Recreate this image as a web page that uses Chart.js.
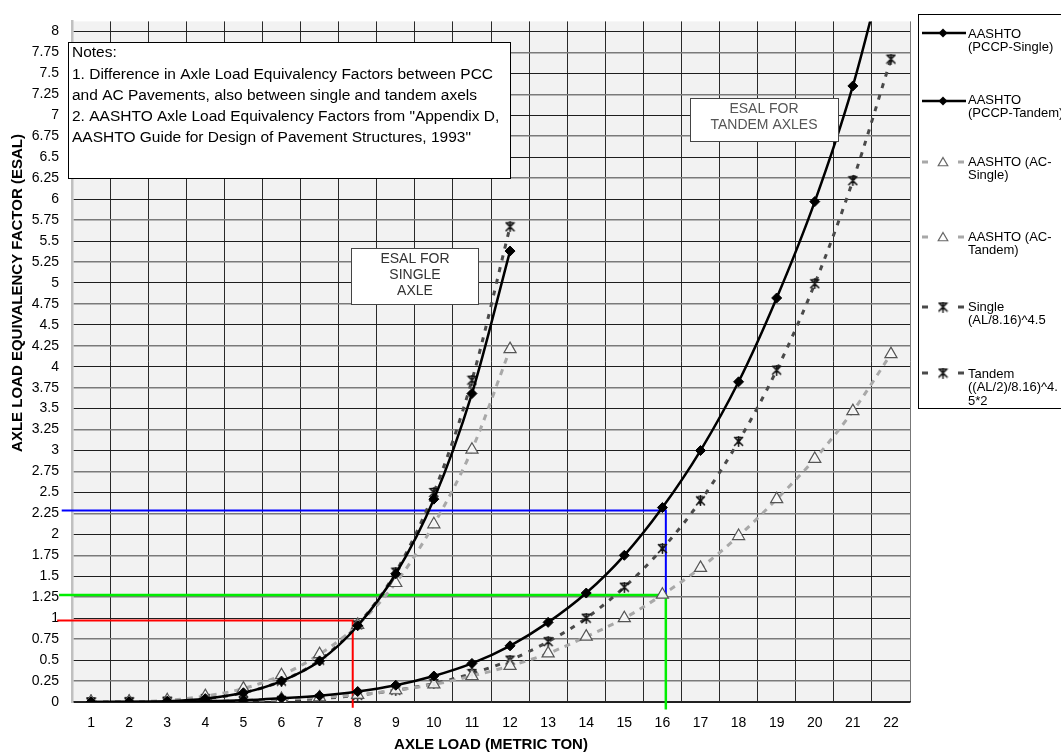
<!DOCTYPE html>
<html><head><meta charset="utf-8">
<script src="https://cdn.jsdelivr.net/npm/chart.js@4.4.0/dist/chart.umd.min.js"></script>
<style>html,body{margin:0;padding:0;background:#fff;}#wrap{width:1061px;height:754px;}</style>
</head><body><div id="wrap"><canvas id="c" width="1061" height="754"></canvas></div>
<script>
// ---------- data ----------
const loadsSingle = [1,2,3,4,5,6,7,8,9,10,11,12];
const loadsTandem = [1,2,3,4,5,6,7,8,9,10,11,12,13,14,15,16,17,18,19,20,21,22];
const pccpSingle = [0.0,0.002,0.01,0.04,0.11,0.25,0.49,0.91,1.53,2.42,3.68,5.38];
const pccpTandem = [0.0,0.0,0.002,0.008,0.02,0.045,0.075,0.125,0.2,0.31,0.46,0.67,0.95,1.3,1.75,2.32,3.0,3.82,4.82,5.97,7.35,9.1];
const acSingle = [0.0,0.003,0.02,0.07,0.16,0.32,0.57,0.92,1.42,2.12,3.01,4.21];
const acTandem = [0.0,0.0,0.003,0.008,0.02,0.035,0.055,0.085,0.14,0.21,0.31,0.43,0.58,0.78,1.0,1.28,1.6,1.98,2.42,2.9,3.47,4.15];
const powerSingle = [0.0,0.002,0.01,0.04,0.11,0.25,0.5,0.92,1.55,2.5,3.84,5.67];
const powerTandem = [0.0,0.0,0.001,0.004,0.01,0.02,0.04,0.08,0.14,0.22,0.34,0.5,0.72,1.0,1.37,1.83,2.4,3.11,3.96,4.99,6.22,7.67];
const seriesLabels = ['AASHTO (PCCP-Single)','AASHTO (PCCP-Tandem)','AASHTO (AC-Single)','AASHTO (AC-Tandem)','Single (AL/8.16)^4.5','Tandem ((AL/2)/8.16)^4.5*2'];
const legendLines = [['AASHTO','(PCCP-Single)'],['AASHTO','(PCCP-Tandem)'],['AASHTO (AC-','Single)'],['AASHTO (AC-','Tandem)'],['Single','(AL/8.16)^4.5'],['Tandem','((AL/2)/8.16)^4.','5*2']];
const xTickLabels = [1,2,3,4,5,6,7,8,9,10,11,12,13,14,15,16,17,18,19,20,21,22];
const yTickValues = [0,0.25,0.5,0.75,1,1.25,1.5,1.75,2,2.25,2.5,2.75,3,3.25,3.5,3.75,4,4.25,4.5,4.75,5,5.25,5.5,5.75,6,6.25,6.5,6.75,7,7.25,7.5,7.75,8];
// guide lines
const redGuideX = [0.11,7.87,7.87], redGuideY = [0.973,0.973,-0.07];
const blueGuideX = [0.23,16.09,16.09], blueGuideY = [2.286,2.286,1.278];
const greenGuideX = [0.16,16.09,16.09], greenGuideY = [1.278,1.278,-0.09];
const notesText = ['Notes:','1. Difference in Axle Load Equivalency Factors between PCC','and AC Pavements, also between single and tandem axels','2. AASHTO Axle Load Equivalency Factors from "Appendix D,','AASHTO Guide for Design of Pavement Structures, 1993"'];
const singleBoxText = ['ESAL FOR','SINGLE','AXLE'];
const tandemBoxText = ['ESAL FOR','TANDEM AXLES'];
const yTitle = 'AXLE LOAD EQUIVALENCY FACTOR (ESAL)';
const xTitle = 'AXLE LOAD (METRIC TON)';

// ---------- helpers ----------
const FONT = '"Liberation Sans", Arial, sans-serif';
const toPts = (xs, ys) => xs.map((x, i) => ({x: x, y: ys[i]}));
function makeStar(color) {
  const c = document.createElement('canvas');
  c.width = 11; c.height = 11;
  const g = c.getContext('2d');
  g.strokeStyle = color; g.lineWidth = 1.6; g.lineCap = 'round';
  g.beginPath();
  g.moveTo(1.5, 1.5); g.lineTo(9.5, 9.5);
  g.moveTo(9.5, 1.5); g.lineTo(1.5, 9.5);
  g.moveTo(5.5, 0.8); g.lineTo(5.5, 10.2);
  g.moveTo(3, 1.5); g.lineTo(8, 1.5);
  g.stroke();
  return c;
}
const starImg = makeStar('#111');

const black = '#000', acGray = '#a8a8a8', starGray = '#4a4a4a';
const pccpStyle = {borderColor: black, backgroundColor: black, borderWidth: 2.5, pointStyle: 'rectRot', pointRadius: 5, pointBackgroundColor: black, pointBorderColor: black, pointBorderWidth: 1, cubicInterpolationMode: 'monotone', fill: false};
const acStyle = {borderColor: acGray, borderWidth: 3, borderDash: [6, 6], pointStyle: 'triangle', pointRadius: 7, pointBackgroundColor: 'rgba(248,248,248,0.9)', pointBorderColor: '#555', pointBorderWidth: 1.2, cubicInterpolationMode: 'monotone', fill: false};
const starStyle = {borderColor: starGray, borderWidth: 3, borderDash: [5, 7], pointStyle: starImg, pointRadius: 6, cubicInterpolationMode: 'monotone', fill: false};
const guideStyle = (col, w) => ({borderColor: col, backgroundColor: col, borderWidth: w, pointRadius: 0, tension: 0, clip: false, fill: false});

const datasets = [
  Object.assign({label: seriesLabels[0], data: toPts(loadsSingle, pccpSingle)}, pccpStyle),
  Object.assign({label: seriesLabels[1], data: toPts(loadsTandem, pccpTandem)}, pccpStyle),
  Object.assign({label: seriesLabels[2], data: toPts(loadsSingle, acSingle)}, acStyle),
  Object.assign({label: seriesLabels[3], data: toPts(loadsTandem, acTandem)}, acStyle),
  Object.assign({label: seriesLabels[4], data: toPts(loadsSingle, powerSingle)}, starStyle),
  Object.assign({label: seriesLabels[5], data: toPts(loadsTandem, powerTandem)}, starStyle),
  Object.assign({label: 'guide-blue', data: toPts(blueGuideX, blueGuideY)}, guideStyle('#0000ff', 2)),
  Object.assign({label: 'guide-green', data: toPts(greenGuideX, greenGuideY)}, guideStyle('#00ee00', 2.5)),
  Object.assign({label: 'guide-red', data: toPts(redGuideX, redGuideY)}, guideStyle('#ff0000', 2))
];

function drawDiamond(g, x, y, r) {
  g.beginPath(); g.moveTo(x, y - r); g.lineTo(x + r, y); g.lineTo(x, y + r); g.lineTo(x - r, y); g.closePath();
  g.fillStyle = '#000'; g.fill();
}
function drawTriangle(g, x, y, r) {
  const h = 1.5 * r, s = r * Math.sqrt(3);
  g.beginPath(); g.moveTo(x, y - r); g.lineTo(x + s / 2, y + h - r); g.lineTo(x - s / 2, y + h - r); g.closePath();
  g.fillStyle = '#fff'; g.fill(); g.strokeStyle = '#666'; g.lineWidth = 1.2; g.stroke();
}

const decor = {
  id: 'decor',
  beforeDraw(chart) {
    const g = chart.ctx, a = chart.chartArea;
    g.save();
    g.fillStyle = '#fff'; g.fillRect(0, 0, chart.width, chart.height);
    g.fillStyle = '#f2f2f2'; g.fillRect(a.left, a.top, a.right - a.left, a.bottom - a.top);
    g.restore();
  },
  afterDraw(chart) {
    const g = chart.ctx;
    g.save();
    // Notes box
    g.fillStyle = '#fff'; g.fillRect(68, 42, 442, 136);
    g.strokeStyle = '#000'; g.lineWidth = 1; g.strokeRect(68.5, 42.5, 442, 136);
    g.fillStyle = '#000'; g.font = '15.5px ' + FONT; g.textBaseline = 'middle'; g.textAlign = 'left';
    notesText.forEach((t, i) => g.fillText(t, 72, 53 + i * 21.3));
    // ESAL single box
    g.fillStyle = '#fff'; g.fillRect(351, 248, 127, 56);
    g.strokeStyle = '#444'; g.strokeRect(351.5, 248.5, 127, 56);
    g.fillStyle = '#333'; g.font = '14px ' + FONT; g.textAlign = 'center';
    singleBoxText.forEach((t, i) => g.fillText(t, 415, 259 + i * 16));
    // ESAL tandem box
    g.fillStyle = '#fff'; g.fillRect(690, 98, 148, 43);
    g.strokeStyle = '#444'; g.strokeRect(690.5, 98.5, 148, 43);
    g.fillStyle = '#555'; g.font = '14px ' + FONT;
    tandemBoxText.forEach((t, i) => g.fillText(t, 764, 109 + i * 16));
    // Y axis title
    g.save();
    g.translate(18, 293); g.rotate(-Math.PI / 2);
    g.fillStyle = '#000'; g.font = 'bold 15px ' + FONT; g.textAlign = 'center'; g.textBaseline = 'middle';
    g.fillText(yTitle, 0, 0);
    g.restore();
    // Legend
    g.fillStyle = '#fff'; g.fillRect(918, 14, 160, 394);
    g.strokeStyle = '#000'; g.lineWidth = 1; g.strokeRect(918.5, 14.5, 160, 394);
    const rows = [{m: 33, t: 34}, {m: 101, t: 100}, {m: 162, t: 162}, {m: 237, t: 237}, {m: 307, t: 307}, {m: 373, t: 374}];
    rows.forEach((r, i) => {
      const y = r.m;
      if (i < 2) {
        g.strokeStyle = '#000'; g.lineWidth = 2.5; g.setLineDash([]);
        g.beginPath(); g.moveTo(922, y); g.lineTo(966, y); g.stroke();
        drawDiamond(g, 943, y, 4.5);
      } else {
        g.strokeStyle = i < 4 ? acGray : starGray; g.lineWidth = 3; g.setLineDash([]);
        g.beginPath(); g.moveTo(922, y); g.lineTo(928, y); g.moveTo(958, y); g.lineTo(964, y); g.stroke();
        if (i < 4) drawTriangle(g, 943, y + 1, 5.5);
        else g.drawImage(starImg, 943 - 5.5, y - 5.5);
      }
      g.fillStyle = '#000'; g.font = '13px ' + FONT; g.textAlign = 'left'; g.textBaseline = 'middle';
      legendLines[i].forEach((t, j) => g.fillText(t, 968, r.t + j * 13.5));
    });
    g.restore();
  }
};

const xGridValues = [];
for (let k = 1; k <= 45; k++) xGridValues.push(k * 0.5);

new Chart(document.getElementById('c'), {
  type: 'line',
  data: {datasets: datasets},
  options: {
    responsive: false,
    animation: false,
    events: [],
    layout: {padding: {top: 10, right: 151, left: 0, bottom: 0}},
    plugins: {legend: {display: false}, tooltip: {enabled: false}, title: {display: false}},
    scales: {
      x: {
        type: 'linear', min: 0.5, max: 22.5,
        afterBuildTicks: (s) => { s.ticks = xGridValues.map(v => ({value: v})); },
        afterFit: (s) => { s.height = 52; },
        ticks: {autoSkip: false, maxRotation: 0, minRotation: 0, padding: 13, color: '#000', font: {family: FONT, size: 14},
          callback: (v) => (xTickLabels.indexOf(v) >= 0 ? String(v) : '')},
        grid: {drawTicks: false, lineWidth: 1,
          color: (c) => { const v = c.tick && c.tick.value; return (v !== undefined && Math.abs(v % 1 - 0.5) < 1e-6 && v > 0.6) ? (v > 22 ? '#777' : '#2a2a2a') : 'rgba(0,0,0,0)'; }},
        border: {color: '#222', width: 1.5},
        title: {display: true, text: xTitle, color: '#000', font: {family: FONT, size: 15, weight: 'bold'}, padding: {top: 0, bottom: 0}}
      },
      y: {
        type: 'linear', min: 0, max: 8.12,
        afterBuildTicks: (s) => { s.ticks = yTickValues.map(v => ({value: v})); },
        afterFit: (s) => { s.width = 72; },
        ticks: {padding: 13, color: '#000', font: {family: FONT, size: 14}, callback: (v) => String(v)},
        grid: {drawTicks: false,
          color: (c) => { const v = c.tick ? c.tick.value : 0; return (Math.abs(v * 2 - Math.round(v * 2)) < 1e-6) ? '#1e1e1e' : '#7a7a7a'; },
          lineWidth: (c) => { const v = c.tick ? c.tick.value : 0; return (Math.abs(v * 2 - Math.round(v * 2)) < 1e-6) ? 1 : 1.6; }},
        border: {color: '#c0c0c0', width: 2.5}
      }
    }
  },
  plugins: [decor]
});
</script></body></html>
